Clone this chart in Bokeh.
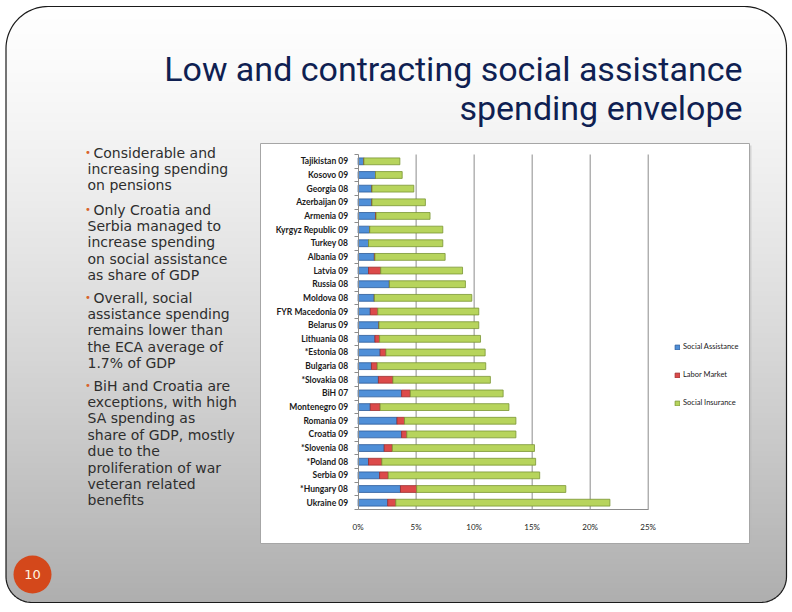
import math
from bokeh.plotting import figure
from bokeh.models import (Range1d, LinearAxis, FixedTicker, ColumnDataSource,
                          Legend, LegendItem, PrintfTickFormatter)
from bokeh.core.properties import value
from bokeh.embed import file_html
from bokeh.resources import INLINE

# ---------------- data ----------------
countries = ["Tajikistan 09", "Kosovo 09", "Georgia 08", "Azerbaijan 09", "Armenia 09",
             "Kyrgyz Republic 09", "Turkey 08", "Albania 09", "Latvia 09", "Russia 08",
             "Moldova 08", "FYR Macedonia 09", "Belarus 09", "Lithuania 08", "*Estonia 08",
             "Bulgaria 08", "*Slovakia 08", "BiH 07", "Montenegro 09", "Romania 09",
             "Croatia 09", "*Slovenia 08", "*Poland 08", "Serbia 09", "*Hungary 08",
             "Ukraine 09"]
social_assistance = [0.5, 1.5, 1.2, 1.2, 1.5, 1.0, 0.9, 1.4, 0.9, 2.7, 1.4, 1.05, 1.8,
                     1.45, 1.9, 1.15, 1.75, 3.75, 1.05, 3.35, 3.75, 2.25, 0.9, 1.85, 3.65, 2.55]
labor_market = [0.0, 0.0, 0.0, 0.0, 0.05, 0.0, 0.0, 0.05, 1.05, 0.0, 0.0, 0.65, 0.0,
                0.4, 0.5, 0.5, 1.25, 0.75, 0.85, 0.65, 0.45, 0.7, 1.15, 0.75, 1.4, 0.7]
social_insurance = [3.1, 2.3, 3.6, 4.6, 4.65, 6.3, 6.4, 6.05, 7.05, 6.55, 8.4, 8.7, 8.6,
                    8.7, 8.55, 9.35, 8.4, 8.0, 11.1, 9.6, 9.4, 12.25, 13.25, 13.05, 12.85, 18.45]
x_ticks = [0, 5, 10, 15, 20, 25]
series_names = ["Social Assistance", "Labor Market", "Social Insurance"]

title_lines = ["Low and contracting social assistance", "spending envelope"]
bullets = [
    ["Considerable and", "increasing spending", "on pensions"],
    ["Only Croatia and", "Serbia managed to", "increase spending", "on social assistance",
     "as share of GDP"],
    ["Overall, social", "assistance spending", "remains lower than", "the ECA average of",
     "1.7% of GDP"],
    ["BiH and Croatia are", "exceptions, with high", "SA spending as", "share of GDP, mostly",
     "due to the", "proliferation of war", "veteran related", "benefits"],
]
page_number = "10"

# ---------------- layout (window pixels) ----------------
W, H = 792, 612
OX, OY = 0, 0
PL, PR, PT, PB = 357.6, 647.7, 154.0, 509.0   # chart plot area
n = len(countries)


def value_at(v_a, p_a, v_b, p_b, px):
    return v_a + (px - p_a) * (v_b - v_a) / (p_b - p_a)


x_start = value_at(x_ticks[0], PL, x_ticks[-1], PR, OX)
x_end = value_at(x_ticks[0], PL, x_ticks[-1], PR, OX + W)
y_start = value_at(-0.5, PT, n - 0.5, PB, OY + H)
y_end = value_at(-0.5, PT, n - 0.5, PB, OY)

p = figure(width=W, height=H, x_range=Range1d(OX, OX + W), y_range=Range1d(OY + H, OY),
           output_backend="svg", toolbar_location=None, x_axis_type=None, y_axis_type=None,
           min_border=0)
p.extra_x_ranges = {"pct": Range1d(x_start, x_end)}
p.extra_y_ranges = {"cat": Range1d(y_start, y_end)}
p.outline_line_color = None
p.background_fill_color = "white"
p.border_fill_color = "white"

# ---------------- slide background ----------------
SX0, SY0, SX1, SY1 = 5.5, 6.0, 786.0, 602.0
RT, RB = 42.0, 26.0


def inset(y):
    if y < SY0 + RT:
        dy = SY0 + RT - y
        return RT - math.sqrt(max(RT * RT - dy * dy, 0))
    if y > SY1 - RB:
        dy = y - (SY1 - RB)
        return RB - math.sqrt(max(RB * RB - dy * dy, 0))
    return 0.0


bl, br, bt, bb, bc = [], [], [], [], []
step = 2.0
yy = SY0
while yy < SY1:
    yc = yy + step / 2
    d = inset(yc)
    t = (yc - SY0) / (SY1 - SY0)
    g = int(round(254 - 80 * (t ** 1.3)))
    bl.append(SX0 + d)
    br.append(SX1 - d)
    bt.append(yy)
    bb.append(min(yy + step + 0.6, SY1))
    bc.append("#%02x%02x%02x" % (g, g, g))
    yy += step
p.quad(left=bl, right=br, top=bt, bottom=bb, fill_color=bc, line_color=None)


def arc_pts(cx, cy, r, a0, a1, k=24):
    return [(cx + r * math.cos(math.radians(a0 + (a1 - a0) * i / k)),
             cy + r * math.sin(math.radians(a0 + (a1 - a0) * i / k))) for i in range(k + 1)]


path = []
path += arc_pts(SX1 - RT, SY0 + RT, RT, -90, 0)
path += arc_pts(SX1 - RB, SY1 - RB, RB, 0, 90)
path += arc_pts(SX0 + RB, SY1 - RB, RB, 90, 180)
path += arc_pts(SX0 + RT, SY0 + RT, RT, 180, 270)
path.append(path[0])
p.line([q[0] for q in path], [q[1] for q in path], line_color="#1a1a1a", line_width=1.2)

# title
p.text(x=[742, 742], y=[68, 107], text=title_lines, text_font=value("Roboto"),
       text_font_size="34px", text_align="right",
       text_baseline="alphabetic", text_color="#0f1f52")

# bullets
para_start = [152, 209, 297, 385]
line_step = 16.4
tx, ty, tt = [], [], []
dx_, dy_ = [], []
for ps, para in zip(para_start, bullets):
    dx_.append(84.5)
    dy_.append(ps)
    for i, line in enumerate(para):
        tx.append(93 if i == 0 else 87)
        ty.append(ps + i * line_step)
        tt.append(line)
p.text(x=dx_, y=dy_, text=["\u2022"] * len(dx_), text_font=value("DejaVu Sans"),
       text_font_size="10px", text_align="left", text_baseline="middle", text_color="#d9622b")
p.text(x=tx, y=ty, text=tt, text_font=value("DejaVu Sans"), text_font_size="14px",
       text_align="left", text_baseline="middle", text_color="#2e2e2e")

# page number
p.circle(x=[32], y=[574], radius=19, fill_color="#d4481b", line_color=None)
p.text(x=[32], y=[574], text=[page_number], text_font=value("DejaVu Sans"),
       text_font_size="13px", text_align="center", text_baseline="middle",
       text_color="#fff4e0")

# chart box
p.quad(left=[262], right=[751], top=[145], bottom=[545], fill_color="#b8b8b8",
       fill_alpha=0.5, line_color=None)
p.quad(left=[260], right=[749], top=[143], bottom=[543], fill_color="white",
       line_color="#a6a6a6", line_width=1)

# ---------------- chart ----------------
src = ColumnDataSource(dict(pos=list(range(n)), sa=social_assistance, lm=labor_market,
                            si=social_insurance))

grid_x = [t for t in x_ticks if t != x_ticks[0]]
p.segment(x0=grid_x, y0=[-0.5] * len(grid_x), x1=grid_x, y1=[n - 0.5] * len(grid_x),
          line_color="#8c8c8c", line_width=1, x_range_name="pct", y_range_name="cat")

fills = ["#4f8fd8", "#dc4a4a", "#b7d45c"]
edges = ["#2c5a98", "#9c2e2e", "#7a9534"]
rs = p.hbar_stack(["sa", "lm", "si"], y="pos", height=0.5, source=src,
                  fill_color=fills, line_color=edges, line_width=0.8,
                  x_range_name="pct", y_range_name="cat")

xaxis = LinearAxis(x_range_name="pct", y_range_name="cat", fixed_location=n - 0.5,
                   bounds=(x_ticks[0], x_ticks[-1]), ticker=FixedTicker(ticks=x_ticks),
                   formatter=PrintfTickFormatter(format="%d%%"))
xaxis.axis_line_color = "#8c8c8c"
xaxis.major_tick_out = 0
xaxis.major_tick_in = 0
xaxis.minor_tick_out = 0
xaxis.major_label_standoff = 12
xaxis.major_label_text_font = "Lato"
xaxis.major_label_text_font_size = "8px"
xaxis.major_label_text_color = "#222222"
p.add_layout(xaxis, "below")

yaxis = LinearAxis(x_range_name="pct", y_range_name="cat", fixed_location=x_ticks[0],
                   bounds=(-0.5, n - 0.5),
                   ticker=FixedTicker(ticks=list(range(n)),
                                      minor_ticks=[i - 0.5 for i in range(n + 1)]),
                   major_label_overrides={i: c for i, c in enumerate(countries)})
yaxis.axis_line_color = "#8c8c8c"
yaxis.major_tick_out = 0
yaxis.major_tick_in = 0
yaxis.minor_tick_out = 4
yaxis.minor_tick_in = 0
yaxis.minor_tick_line_color = "#8c8c8c"
yaxis.major_label_standoff = 6
yaxis.major_label_text_font = "Lato"
yaxis.major_label_text_font_size = "8.5px"
yaxis.major_label_text_font_style = "bold"
yaxis.major_label_text_color = "#1a1a1a"
p.add_layout(yaxis, "left")

legend = Legend(items=[LegendItem(label=nm, renderers=[r]) for nm, r in zip(series_names, rs)],
                location=(674, 205), orientation="vertical", padding=0, margin=0,
                spacing=19, glyph_width=6, glyph_height=6, label_height=8,
                label_standoff=3, label_text_font="Lato",
                label_text_font_size="7.5px", label_text_color="#1a1a1a",
                border_line_color=None, background_fill_alpha=0)
p.add_layout(legend)

open("out.html", "w").write(file_html(p, INLINE))
